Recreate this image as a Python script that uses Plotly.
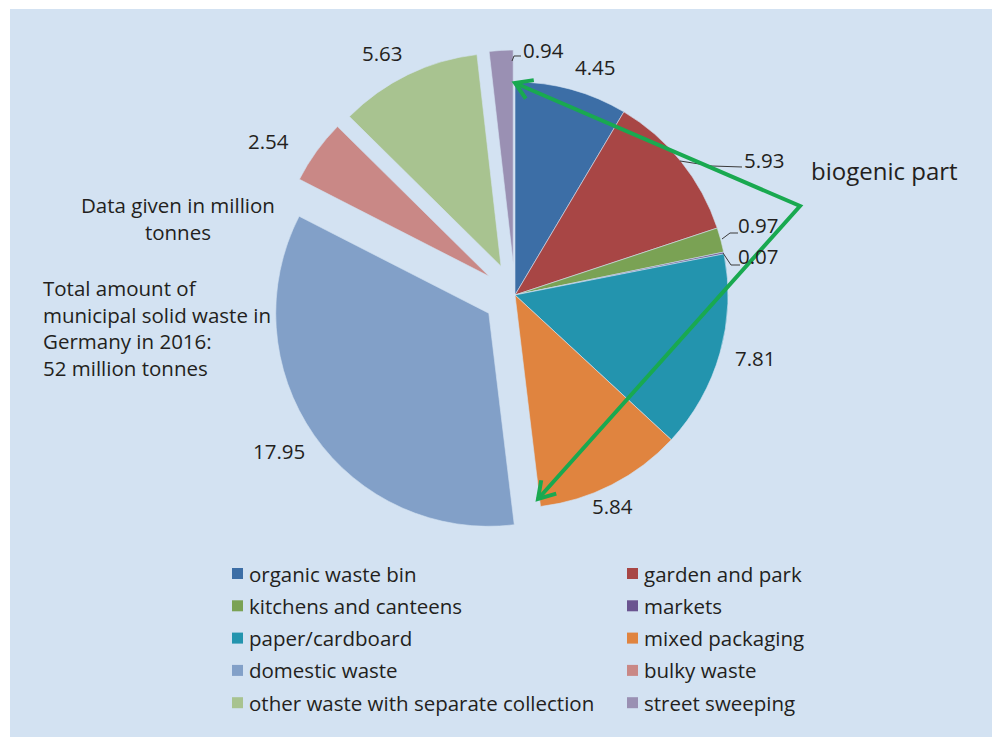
import math
import plotly.graph_objects as go

# Municipal solid waste in Germany, 2016 (million tonnes)
categories = [
    "organic waste bin", "garden and park", "kitchens and canteens", "markets",
    "paper/cardboard", "mixed packaging", "domestic waste", "bulky waste",
    "other waste with separate collection", "street sweeping",
]
values = [4.45, 5.93, 0.97, 0.07, 7.81, 5.84, 17.95, 2.54, 5.63, 0.94]
colors = [
    "#3c6ea6", "#a84645", "#7aa254", "#6a5490", "#2394ae",
    "#e0843f", "#82a0c8", "#c98886", "#a8c390", "#9a90b3",
]
pulls = [0, 0, 0, 0, 0, 0, 0.15, 0.15, 0.15, 0.15]

W, H = 992, 737
BG = "#d3e2f2"
TXT = "#231f20"
GREEN = "#19a950"
FONT = "Open Sans"
FS = 20.5


def px(x, y):
    """Pixel position -> paper coordinates."""
    return x / W, 1 - y / H


fig = go.Figure()
fig.add_trace(go.Pie(
    labels=categories,
    values=values,
    marker=dict(colors=colors, line=dict(color=BG, width=0.6)),
    pull=pulls,
    sort=False,
    direction="clockwise",
    rotation=0,
    textinfo="none",
    hoverinfo="label+value",
    showlegend=False,
    domain=dict(x=[270 / W, 760 / W], y=[1 - 540 / H, 1 - 50 / H]),
))

annotations = []


def text_at(x, y, text, xanchor="center", size=FS, align="center"):
    ax_, ay_ = px(x, y)
    annotations.append(dict(x=ax_, y=ay_, xref="paper", yref="paper",
                            xanchor=xanchor, yanchor="middle", align=align,
                            text=text, showarrow=False,
                            font=dict(family=FONT, size=size, color=TXT)))


# value labels next to the slices
label_pos = [(595, 67), (764, 160), (758, 225), (758, 256), (755, 358),
             (612, 506), (279, 451), (268, 141), (382, 53), (543, 50)]
for v, (lx, ly) in zip(values, label_pos):
    text_at(lx, ly, f"{v:.2f}")

text_at(178, 218, "Data given in million<br>tonnes")
text_at(41, 328, "Total amount of<br>municipal solid waste in<br>Germany in 2016:<br>52 million tonnes",
        xanchor="left", align="left")
text_at(809, 171, "biogenic part", xanchor="left", size=24)


def path(points):
    pts = [px(x, y) for x, y in points]
    return "M " + " L ".join(f"{a:.5f},{b:.5f}" for a, b in pts)


shapes = [
    dict(type="rect", xref="paper", yref="paper", x0=10 / W, x1=1, y0=0, y1=1 - 9 / H,
         fillcolor=BG, line=dict(width=0), layer="below"),
]
# leader lines for the small/crowded labels
leaders = [
    [(512, 61), (514, 56), (521, 56)],
    [(680, 161), (712, 166), (742, 167)],
    [(722, 239), (730, 233), (738, 233)],
    [(723, 253), (731, 265), (740, 265)],
]
for pts in leaders:
    shapes.append(dict(type="path", xref="paper", yref="paper", path=path(pts),
                       line=dict(color="#3a3a3a", width=1)))

# green bracket marking the biogenic part, with open arrow heads
apex = (800, 206)
tips = [(515, 83), (538, 499)]
shapes.append(dict(type="path", xref="paper", yref="paper",
                   path=path([tips[0], apex, tips[1]]),
                   line=dict(color=GREEN, width=4)))
for tx, ty in tips:
    dx, dy = apex[0] - tx, apex[1] - ty
    n = math.hypot(dx, dy)
    ux, uy = dx / n, dy / n
    arms = []
    for ang in (math.radians(32), math.radians(-32)):
        rx = ux * math.cos(ang) - uy * math.sin(ang)
        ry = ux * math.sin(ang) + uy * math.cos(ang)
        arms.append((tx + 19 * rx, ty + 19 * ry))
    shapes.append(dict(type="path", xref="paper", yref="paper",
                       path=path([arms[0], (tx, ty), arms[1]]),
                       line=dict(color=GREEN, width=4)))

# two-column key below the pie
col_x = [232, 627]
row_y0, row_step = 573.5, 32.3
for i, (name, col) in enumerate(zip(categories, colors)):
    cx = col_x[i % 2]
    cy = row_y0 + row_step * (i // 2)
    a0, b0 = px(cx, cy - 5.5)
    a1, b1 = px(cx + 11, cy + 5.5)
    shapes.append(dict(type="rect", xref="paper", yref="paper",
                       x0=a0, x1=a1, y0=b1, y1=b0,
                       fillcolor=col, line=dict(width=0)))
    text_at(cx + 15, cy, name, xanchor="left")

fig.update_layout(
    width=W, height=H,
    margin=dict(l=0, r=0, t=0, b=0),
    paper_bgcolor="white",
    plot_bgcolor=BG,
    showlegend=False,
    annotations=annotations,
    shapes=shapes,
)

fig.write_html("out.html")
